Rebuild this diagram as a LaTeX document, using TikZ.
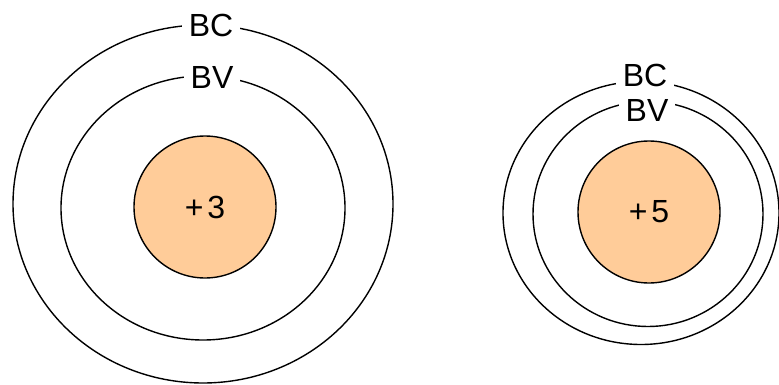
\documentclass[tikz,border=0pt]{standalone}
\usepackage{fontspec}
\setmainfont{Liberation Sans}
\usetikzlibrary{shapes.geometric}
\definecolor{nucleus}{RGB}{255,204,153}
\begin{document}
\begin{tikzpicture}[x=1pt, y=-1pt, font=\fontsize{32}{32}\selectfont,
    shell/.style={draw, line width=1.4pt, ellipse, inner sep=0pt},
    core/.style={draw, line width=1.4pt, circle, fill=nucleus, inner sep=0pt, minimum size=142pt},
    band/.style={fill=white, inner xsep=7pt, inner ysep=1pt}]

        \useasboundingbox (0,0) rectangle (779,385);

        % -----------------------
        % 1. Left atom (+3)
        % -----------------------
        \node[shell, minimum width=380pt, minimum height=358pt] (bcA) at (203,204) {};
        \node[shell, minimum width=284pt, minimum height=264pt] (bvA) at (203,208) {};
        \node[core] (coreA) at (205,207) {+\kern4pt3};
        \node[band] (bcAlbl) at (211,25) {BC};
        \node[band] (bvAlbl) at (212,77) {BV};

        % -----------------------
        % 2. Right atom (+5)
        % -----------------------
        \node[shell, minimum width=276pt, minimum height=263pt] (bcB) at (641,213) {};
        \node[shell, minimum width=230pt, minimum height=225pt] (bvB) at (648,214) {};
        \node[core] (coreB) at (649,212) {+\kern4pt5};
        \node[band] (bcBlbl) at (645,75) {BC};
        \node[band] (bvBlbl) at (647,110) {BV};

    \end{tikzpicture}
\end{document}
